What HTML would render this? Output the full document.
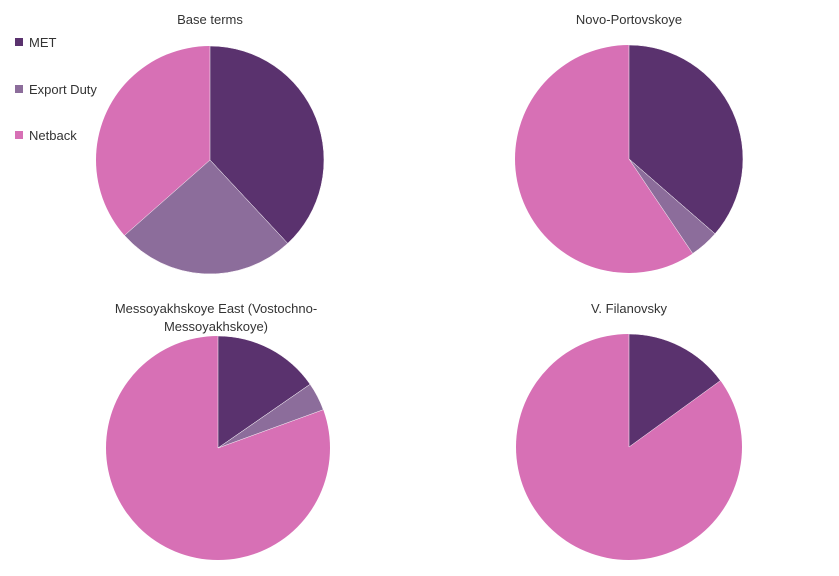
<!DOCTYPE html>
<html><head><meta charset="utf-8"><style>
html,body{margin:0;padding:0;background:#fff;}
svg{display:block;font-family:"Liberation Sans",sans-serif;font-size:13px;fill:#333;}
</style></head><body>
<svg width="839" height="576" viewBox="0 0 839 576" xmlns="http://www.w3.org/2000/svg">
<rect width="839" height="576" fill="#fff"/>
<!-- Pie 1 -->
<circle cx="210" cy="160" r="114" fill="#d770b5"/>
<path d="M210,160 L210,46 A114,114 0 0 1 287.7,243.4 Z" fill="#5a326e" stroke="#fff" stroke-width="0.5"/>
<path d="M210,160 L287.7,243.4 A114,114 0 0 1 124.5,235.4 Z" fill="#8c6d9b" stroke="#fff" stroke-width="0.5"/>
<!-- Pie 2 -->
<circle cx="629" cy="159" r="114" fill="#d770b5"/>
<path d="M629,159 L629,45 A114,114 0 0 1 715,233.8 Z" fill="#5a326e" stroke="#fff" stroke-width="0.5"/>
<path d="M629,159 L715,233.8 A114,114 0 0 1 692.7,253.5 Z" fill="#8c6d9b" stroke="#fff" stroke-width="0.5"/>
<!-- Pie 3 -->
<circle cx="218" cy="448" r="112" fill="#d770b5"/>
<path d="M218,448 L218,336 A112,112 0 0 1 310.1,384.3 Z" fill="#5a326e" stroke="#fff" stroke-width="0.5"/>
<path d="M218,448 L310.1,384.3 A112,112 0 0 1 323.3,409.7 Z" fill="#8c6d9b" stroke="#fff" stroke-width="0.5"/>
<!-- Pie 4 -->
<circle cx="629" cy="447" r="113" fill="#d770b5"/>
<path d="M629,447 L629,334 A113,113 0 0 1 720.4,380.6 Z" fill="#5a326e" stroke="#fff" stroke-width="0.5"/>
<!-- Titles -->
<g text-anchor="middle">
<text x="210" y="24">Base terms</text>
<text x="629" y="24">Novo-Portovskoye</text>
<text x="216" y="313">Messoyakhskoye East (Vostochno-</text>
<text x="216" y="331">Messoyakhskoye)</text>
<text x="629" y="313">V. Filanovsky</text>
</g>
<!-- Legend -->
<rect x="15" y="38" width="8" height="8" fill="#5a326e"/>
<text x="29" y="47">MET</text>
<rect x="15" y="85" width="8" height="8" fill="#8c6d9b"/>
<text x="29" y="94">Export Duty</text>
<rect x="15" y="131" width="8" height="8" fill="#d770b5"/>
<text x="29" y="140">Netback</text>
</svg>
</body></html>
